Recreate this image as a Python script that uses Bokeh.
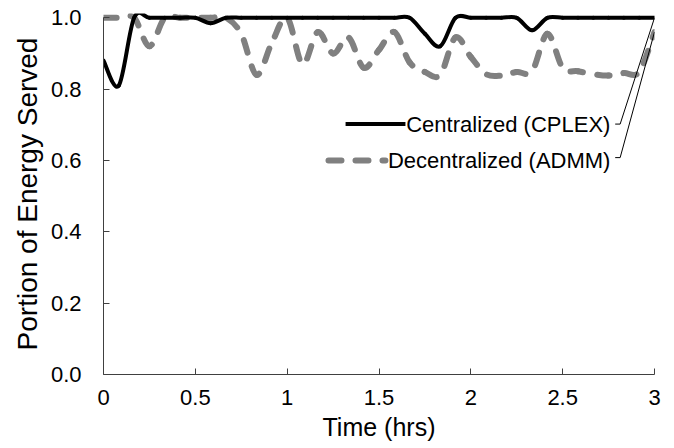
import numpy as np
from bokeh.plotting import figure
from bokeh.models import Range1d, FixedTicker, NumeralTickFormatter, ColumnDataSource
from bokeh.embed import file_html
from bokeh.resources import INLINE
from bokeh.core.properties import value

# ---------------- data ----------------
time_min = [0, 5, 10, 15, 20, 25, 30, 35, 40, 45, 50, 55, 60, 65, 70, 75, 80, 85, 90,
            95, 100, 105, 110, 115, 120, 125, 130, 135, 140, 145, 150, 155, 160, 165,
            170, 175, 180]
centralized = [0.88, 0.81, 1.0, 1.0, 1.0, 1.0, 1.0, 0.985, 1.0, 1.0, 1.0, 1.0, 1.0,
               1.0, 1.0, 1.0, 1.0, 1.0, 1.0, 1.0, 1.0, 0.955, 0.92, 1.0, 1.0, 1.0,
               1.0, 1.0, 0.965, 1.0, 1.0, 1.0, 1.0, 1.0, 1.0, 1.0, 1.0]
decentralized = [1.0, 1.0, 1.0, 0.92, 1.0, 1.0, 1.0, 1.0, 1.0, 0.955, 0.84, 0.93, 1.0,
                 0.87, 0.96, 0.90, 0.945, 0.86, 0.91, 0.96, 0.875, 0.848, 0.84, 0.945,
                 0.89, 0.842, 0.838, 0.848, 0.85, 0.955, 0.86, 0.85, 0.842, 0.838,
                 0.845, 0.848, 0.96]
series_names = ["Centralized (CPLEX)", "Decentralized (ADMM)"]
x_ticks = [0, 0.5, 1, 1.5, 2, 2.5, 3]
y_ticks = [0.0, 0.2, 0.4, 0.6, 0.8, 1.0]

FONT = "Liberation Sans"
W, H = 672, 446
BL, BR, BT, BB = 103, 18, 13, 72
SX = (W - BL - BR) / 3.0
Y_END = 1.012
SY = (H - BT - BB) / Y_END

time_hrs = [m / 60.0 for m in time_min]


def smooth_segments(xs, ys, period):
    """Excel-like smoothed line: Catmull-Rom control points for bezier segments."""
    n = len(xs)
    d = dict(x0=[], y0=[], x1=[], y1=[], cx0=[], cy0=[], cx1=[], cy1=[], off=[])
    acc = 0.0
    for i in range(n - 1):
        pm, pp = max(i - 1, 0), min(i + 2, n - 1)
        p0 = (xs[i], ys[i])
        p3 = (xs[i + 1], ys[i + 1])
        p1 = (xs[i] + (xs[i + 1] - xs[pm]) / 6.0, ys[i] + (ys[i + 1] - ys[pm]) / 6.0)
        p2 = (xs[i + 1] - (xs[pp] - xs[i]) / 6.0, ys[i + 1] - (ys[pp] - ys[i]) / 6.0)
        d["x0"].append(p0[0]); d["y0"].append(p0[1])
        d["x1"].append(p3[0]); d["y1"].append(p3[1])
        d["cx0"].append(p1[0]); d["cy0"].append(p1[1])
        d["cx1"].append(p2[0]); d["cy1"].append(p2[1])
        d["off"].append(int(round(acc % period)) if period else 0)
        # screen length of this segment (for a continuous dash pattern)
        s = np.linspace(0, 1, 40)
        bx = ((1 - s) ** 3) * p0[0] + 3 * ((1 - s) ** 2) * s * p1[0] + 3 * (1 - s) * s ** 2 * p2[0] + s ** 3 * p3[0]
        by = ((1 - s) ** 3) * p0[1] + 3 * ((1 - s) ** 2) * s * p1[1] + 3 * (1 - s) * s ** 2 * p2[1] + s ** 3 * p3[1]
        acc += float(np.sum(np.hypot(np.diff(bx) * SX, np.diff(by) * SY)))
    return ColumnDataSource(d)


p = figure(width=W, height=H, output_backend="svg", toolbar_location=None,
           x_range=Range1d(0, 3), y_range=Range1d(0, Y_END),
           min_border_left=BL, min_border_right=BR, min_border_top=BT,
           min_border_bottom=BB)
p.outline_line_color = None
p.grid.visible = False
p.background_fill_color = "white"
p.border_fill_color = "white"

DASH = "13 14"
src_c = smooth_segments(time_hrs, centralized, 0)
src_d = smooth_segments(time_hrs, decentralized, 27)

p.bezier(x0="x0", y0="y0", x1="x1", y1="y1", cx0="cx0", cy0="cy0", cx1="cx1", cy1="cy1",
         source=src_d, line_color="#808080", line_width=6, line_dash=DASH,
         line_dash_offset="off", line_cap="round")
p.bezier(x0="x0", y0="y0", x1="x1", y1="y1", cx0="cx0", cy0="cy0", cx1="cx1", cy1="cy1",
         source=src_c, line_color="black", line_width=4, line_cap="round", line_join="round")

# data labels with legend keys and leader lines (Excel style)
lab_x = 2.76
lab_y = [0.702, 0.600]
lead_y = [0.702, 0.608]
ends = [centralized[-1], decentralized[-1]]
p.text(x=[lab_x, lab_x], y=lab_y, text=series_names, text_align="right",
       text_baseline="middle", text_font=value(FONT), text_font_size="22px",
       text_color="black")
for ly, ey in zip(lead_y, ends):
    p.line(x=[2.786, 2.813, time_hrs[-1]], y=[ly, ly, ey], line_color="black", line_width=1)
p.line(x=[1.318, 1.644], y=[lab_y[0], lab_y[0]], line_color="black", line_width=4)
p.line(x=[1.225, 1.535], y=[lab_y[1], lab_y[1]], line_color="#808080", line_width=6,
       line_dash=DASH, line_cap="round")

# axes
for ax in (p.xaxis, p.yaxis):
    ax.axis_line_color = "#404040"
    ax.major_tick_line_color = "#404040"
    ax.minor_tick_line_color = None
    ax.major_tick_in = 6
    ax.major_tick_out = 0
    ax.major_label_text_font = FONT
    ax.major_label_text_font_size = "22px"
    ax.major_label_text_color = "black"
    ax.axis_label_text_font = FONT
    ax.axis_label_text_font_style = "normal"
    ax.axis_label_text_color = "black"

p.xaxis.ticker = FixedTicker(ticks=x_ticks)
p.xaxis.formatter = NumeralTickFormatter(format="0.[0]")
p.xaxis.axis_label = "Time (hrs)"
p.xaxis.axis_label_text_font_size = "25px"
p.xaxis.major_label_standoff = 15
p.xaxis.axis_label_standoff = 5

p.yaxis.ticker = FixedTicker(ticks=y_ticks)
p.yaxis.formatter = NumeralTickFormatter(format="0.0")
p.yaxis.bounds = (0, 1)
p.yaxis.axis_label = "Portion of Energy Served"
p.yaxis.axis_label_text_font_size = "28px"
p.yaxis.major_label_standoff = 22
p.yaxis.axis_label_standoff = 5

open("out.html", "w").write(file_html(p, INLINE))
